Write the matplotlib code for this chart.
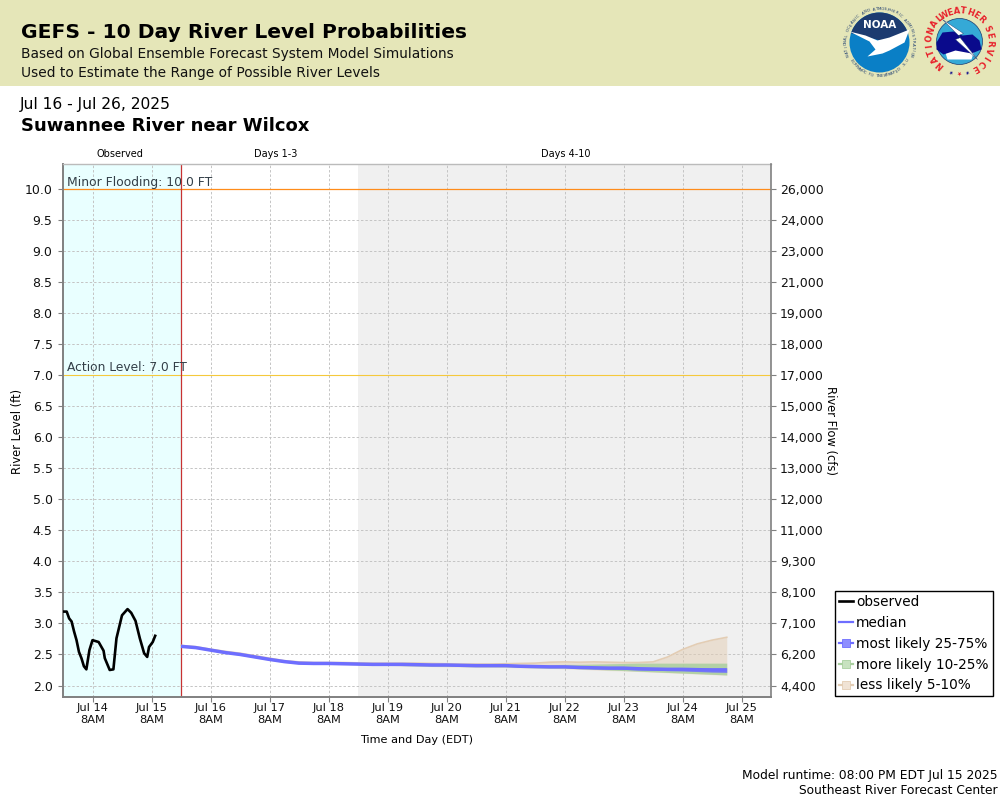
import numpy as np
import pandas as pd
import matplotlib
matplotlib.use('Agg')
import matplotlib.pyplot as plt
import matplotlib.dates as mdates
from matplotlib.lines import Line2D
from matplotlib.patches import Circle, Polygon, Rectangle

# observed stage (ft)
obs_times = ['07-13 20:30', '07-13 21:30', '07-13 22:30', '07-13 23:30', '07-14 00:30', '07-14 01:30',
             '07-14 02:30', '07-14 03:30', '07-14 04:30', '07-14 05:30', '07-14 06:45', '07-14 08:00',
             '07-14 10:30', '07-14 12:30', '07-14 13:00', '07-14 15:00', '07-14 16:30', '07-14 17:45',
             '07-14 20:00', '07-14 22:15', '07-14 23:45', '07-15 01:30', '07-15 03:15', '07-15 05:00',
             '07-15 06:15', '07-15 07:00', '07-15 08:30', '07-15 09:30']
obs_level = [3.19, 3.19, 3.08, 3.03, 2.87, 2.73, 2.54, 2.44, 2.31, 2.26, 2.57, 2.73,
             2.70, 2.56, 2.44, 2.25, 2.26, 2.76, 3.13, 3.23, 3.17, 3.04, 2.76, 2.52,
             2.46, 2.62, 2.70, 2.80]

# forecast percentiles, every 6 hours
median = [2.63, 2.61, 2.57, 2.53, 2.50, 2.46, 2.42, 2.385, 2.36, 2.355, 2.355, 2.35, 2.345,
          2.34, 2.34, 2.34, 2.335, 2.33, 2.33, 2.325, 2.32, 2.32, 2.32, 2.31, 2.305,
          2.30, 2.30, 2.29, 2.285, 2.28, 2.28, 2.27, 2.265, 2.26, 2.26, 2.255, 2.25, 2.25]
q75 = [2.635, 2.615, 2.575, 2.535, 2.505, 2.465, 2.425, 2.39, 2.365, 2.36, 2.36, 2.355, 2.35,
       2.345, 2.345, 2.345, 2.34, 2.335, 2.335, 2.33, 2.325, 2.325, 2.325, 2.32, 2.315,
       2.31, 2.31, 2.30, 2.30, 2.295, 2.295, 2.29, 2.29, 2.29, 2.29, 2.285, 2.285, 2.285]
q25 = [2.625, 2.605, 2.565, 2.525, 2.495, 2.455, 2.415, 2.38, 2.355, 2.35, 2.35, 2.345, 2.34,
       2.335, 2.335, 2.33, 2.325, 2.32, 2.32, 2.315, 2.31, 2.31, 2.31, 2.30, 2.295,
       2.29, 2.29, 2.28, 2.27, 2.265, 2.26, 2.25, 2.245, 2.24, 2.235, 2.225, 2.215, 2.21]
q90 = [2.64, 2.62, 2.58, 2.54, 2.51, 2.47, 2.43, 2.395, 2.37, 2.365, 2.365, 2.36, 2.36,
       2.355, 2.355, 2.355, 2.35, 2.345, 2.345, 2.34, 2.335, 2.335, 2.335, 2.335, 2.33,
       2.335, 2.34, 2.34, 2.345, 2.35, 2.355, 2.36, 2.36, 2.36, 2.36, 2.36, 2.36, 2.36]
q10 = [2.62, 2.60, 2.56, 2.52, 2.49, 2.45, 2.41, 2.375, 2.35, 2.345, 2.345, 2.34, 2.335,
       2.33, 2.33, 2.32, 2.315, 2.31, 2.31, 2.305, 2.30, 2.30, 2.30, 2.29, 2.285,
       2.28, 2.28, 2.27, 2.26, 2.25, 2.24, 2.23, 2.22, 2.21, 2.20, 2.19, 2.18, 2.17]
q95 = [2.645, 2.625, 2.585, 2.55, 2.52, 2.48, 2.44, 2.40, 2.38, 2.37, 2.37, 2.37, 2.365,
       2.36, 2.36, 2.36, 2.36, 2.355, 2.35, 2.345, 2.345, 2.345, 2.35, 2.355, 2.36,
       2.375, 2.38, 2.375, 2.38, 2.375, 2.37, 2.37, 2.38, 2.46, 2.58, 2.67, 2.73, 2.776]
q05 = [2.615, 2.595, 2.555, 2.515, 2.485, 2.445, 2.405, 2.37, 2.345, 2.34, 2.34, 2.335, 2.33,
       2.325, 2.325, 2.315, 2.31, 2.305, 2.30, 2.30, 2.295, 2.295, 2.29, 2.285, 2.28,
       2.275, 2.27, 2.26, 2.25, 2.24, 2.235, 2.225, 2.215, 2.205, 2.195, 2.185, 2.175, 2.165]

# right axis labels, one per half foot from 2.0 to 10.0
level_ticks = [2.0, 2.5, 3.0, 3.5, 4.0, 4.5, 5.0, 5.5, 6.0, 6.5, 7.0, 7.5, 8.0, 8.5, 9.0, 9.5, 10.0]
flow_labels = ['4,400', '6,200', '7,100', '8,100', '9,300', '11,000', '12,000', '13,000', '14,000',
               '15,000', '17,000', '18,000', '19,000', '21,000', '23,000', '24,000', '26,000']

minor_flood = 10.0
action_level = 7.0

obs_x = pd.to_datetime(['2025-' + t for t in obs_times])
fc_x = pd.date_range('2025-07-15 20:00', periods=len(median), freq='6h')
start = pd.Timestamp('2025-07-13 20:00')
runtime = pd.Timestamp('2025-07-15 20:00')
day4 = pd.Timestamp('2025-07-18 20:00')
end = pd.Timestamp('2025-07-25 20:00')

TAN = '#e3cdb4'
GREEN = '#a9cf9f'
BLUE = '#6e6eff'
GRAY = '#808080'
NAVY = '#1c3b70'
RED = '#e8202a'

plt.rcParams['font.family'] = 'DejaVu Sans'
fig = plt.figure(figsize=(10, 8), dpi=100)

# header band, logos and free text sit on a pixel-coordinate overlay
bg = fig.add_axes([0, 0, 1, 1], zorder=0)
bg.set_xlim(0, 1000)
bg.set_ylim(800, 0)
bg.axis('off')
bg.add_patch(Rectangle((0, 0), 1000, 85.5, color='#e5e6b8', lw=0))

bg.text(21, 33, 'GEFS - 10 Day River Level Probabilities', fontsize=14.6, fontweight='bold', va='center')
bg.text(21, 54, 'Based on Global Ensemble Forecast System Model Simulations', fontsize=9.95, va='center', color='#111111')
bg.text(21, 73, 'Used to Estimate the Range of Possible River Levels', fontsize=9.95, va='center', color='#111111')
bg.text(20, 105, 'Jul 16 - Jul 26, 2025', fontsize=11.2, va='center')
bg.text(21, 126, 'Suwannee River near Wilcox', fontsize=13, fontweight='bold', va='center')
bg.text(120, 154, 'Observed', fontsize=7, ha='center', va='center')
bg.text(276, 154, 'Days 1-3', fontsize=7, ha='center', va='center')
bg.text(566, 154, 'Days 4-10', fontsize=7, ha='center', va='center')
bg.text(417, 740, 'Time and Day (EDT)', fontsize=8.1, ha='center', va='center')
bg.text(18, 431, 'River Level (ft)', fontsize=8.3, rotation=90, ha='center', va='center')
bg.text(831, 431, 'River Flow (cfs)', fontsize=8.3, rotation=-90, ha='center', va='center')
bg.text(998, 775, 'Model runtime: 08:00 PM EDT Jul 15 2025', fontsize=8.8, ha='right', va='center')
bg.text(998, 791, 'Southeast River Forecast Center', fontsize=8.8, ha='right', va='center')


def ring_text(cx, cy, r, text, a0, a1, color, size, weight='normal', bottom=False):
    # letters spread along an arc, angles in degrees clockwise from north
    for ch, a in zip(text, np.linspace(a0, a1, len(text))):
        rad = np.radians(a)
        rot = -a if not bottom else 180 - a
        bg.text(cx + r * np.sin(rad), cy - r * np.cos(rad), ch, fontsize=size, color=color,
                fontweight=weight, rotation=rot, ha='center', va='center')


# NOAA logo
cx, cy = 879.5, 42.5
bg.add_patch(Circle((cx, cy), 30, fc='#0a7fc6', ec='none'))
top = np.radians(np.linspace(-72, 72, 30))
bg.add_patch(Polygon(np.r_[np.c_[cx + 30 * np.sin(top), cy - 30 * np.cos(top)],
                           [[cx + 1, cy - 2]]], fc=NAVY, ec='none'))
bg.add_patch(Polygon([[cx - 30, cy - 11], [cx - 14, cy - 7], [cx - 2, cy - 2], [cx + 10, cy - 5], [cx + 30, cy - 13],
                      [cx + 25, cy], [cx + 10, cy + 8], [cx + 3, cy + 11], [cx - 12, cy + 14], [cx - 4, cy + 7],
                      [cx - 10, cy - 1]], fc='white', ec='none'))
bg.text(cx, cy - 17, 'NOAA', color='white', fontsize=7.5, fontweight='bold', ha='center', va='center')
ring_text(cx, cy, 33.5, 'NATIONAL OCEANIC AND ATMOSPHERIC ADMINISTRATION', -112, 112, NAVY, 2.8)
ring_text(cx, cy, 33.5, 'U.S. DEPARTMENT OF COMMERCE', 122, 238, NAVY, 2.8, bottom=True)

# NWS logo
cx, cy = 959.5, 41.5
bg.add_patch(Circle((cx, cy), 23, fc='#35a9d6', ec=NAVY, lw=0.5))
bg.add_patch(Polygon([[cx - 15, cy + 8], [cx + 15, cy + 8], [cx + 12, cy + 18], [cx - 12, cy + 18]], fc='white', ec='none'))
bg.add_patch(Polygon([[cx - 23, cy + 1], [cx - 17, cy - 9], [cx - 6, cy - 10], [cx + 3, cy - 6], [cx + 13, cy - 7],
                      [cx + 20, cy - 1], [cx + 22, cy + 8], [cx + 12, cy + 12], [cx - 4, cy + 9], [cx - 16, cy + 13],
                      [cx - 23, cy + 8]], fc='#0a0a8c', ec='none'))
bg.add_patch(Polygon([[cx - 17, cy - 22], [cx + 4, cy - 8], [cx - 1, cy - 6], [cx + 18, cy + 18], [cx - 4, cy - 2],
                      [cx + 1, cy - 4]], fc='white', ec=NAVY, lw=0.3))
ring_text(cx, cy, 30.5, 'NATIONAL', -139, -42, RED, 6, 'bold')
ring_text(cx, cy, 30.5, 'WEATHER', -30, 45, RED, 6, 'bold')
ring_text(cx, cy, 30.5, 'SERVICE', 65, 150, RED, 6, 'bold')
ring_text(cx, cy, 30.5, '★', 180, 180, RED, 4, 'bold')
ring_text(cx, cy, 30.5, '★★', 165, 195, '#0a0a8c', 3.5, 'bold')

# main plot
ax = fig.add_axes([63 / 1000, 1 - 697 / 800, 708 / 1000, 533 / 800], zorder=2)
ax.set_xlim(start, end)
ax.set_ylim(1.815, 10.395)
ax.axvspan(start, runtime, color='#e9ffff', lw=0, zorder=0)
ax.axvspan(day4, end, color='#f0f0f0', lw=0, zorder=0)
ax.grid(True, color='#c4c4c4', ls=(0, (2.5, 2)), lw=0.7, zorder=1)
ax.set_axisbelow(True)
ax.axhline(minor_flood, color='#ff8c1a', lw=0.9, zorder=2)
ax.axhline(action_level, color='#f5c93c', lw=0.8, zorder=2)
ax.axvline(runtime, color='#c83232', lw=0.9, zorder=2)
ax.text(0.006, 10.1, 'Minor Flooding: 10.0 FT', transform=ax.get_yaxis_transform(),
        fontsize=8.9, color='#333f48', va='center')
ax.text(0.006, 7.12, 'Action Level: 7.0 FT', transform=ax.get_yaxis_transform(),
        fontsize=8.85, color='#333f48', va='center')

ax.fill_between(fc_x, q05, q95, color=TAN, alpha=0.5, lw=0, zorder=3)
ax.plot(fc_x, q95, color=TAN, lw=1.2, zorder=3)
ax.fill_between(fc_x, q10, q90, color=GREEN, alpha=0.85, lw=0, zorder=4)
ax.fill_between(fc_x, q25, q75, color=BLUE, alpha=0.8, lw=0, zorder=5)
ax.plot(fc_x, median, color=BLUE, lw=2.5, solid_capstyle='butt', zorder=6)
ax.plot(obs_x, obs_level, color='black', lw=1.9, zorder=7)

ax.set_yticks(level_ticks)
ax.set_yticklabels([f'{v:.1f}' for v in level_ticks])
ax.xaxis.set_major_locator(mdates.HourLocator(byhour=[8]))
ax.xaxis.set_major_formatter(mdates.DateFormatter('%b %-d\n%-I%p'))
ax.tick_params(axis='both', color=GRAY, length=3.5, width=0.8, labelcolor='#111111')
ax.tick_params(axis='y', labelsize=9, pad=4)
ax.tick_params(axis='x', labelsize=8.2, pad=1)

right = ax.twinx()
right.set_ylim(ax.get_ylim())
right.set_yticks(level_ticks)
right.set_yticklabels(flow_labels)
right.tick_params(axis='y', labelsize=9, color=GRAY, length=3.5, width=0.8, pad=3, labelcolor='#111111')

for side in ('left', 'top', 'bottom'):
    right.spines[side].set_visible(False)
ax.spines['right'].set_visible(False)
ax.spines['left'].set_color(GRAY)
ax.spines['left'].set_linewidth(1.4)
ax.spines['bottom'].set_color(GRAY)
ax.spines['bottom'].set_linewidth(1.4)
ax.spines['top'].set_color('#bbbbbb')
ax.spines['top'].set_linewidth(1.0)
right.spines['right'].set_color(GRAY)
right.spines['right'].set_linewidth(1.2)

handles = [
    Line2D([], [], color='black', lw=1.9),
    Line2D([], [], color=BLUE, lw=1.6),
    Line2D([], [], color=BLUE, lw=1.6, marker='s', ms=5.5, mfc='#8f8fff', mec=BLUE, mew=0.6),
    Line2D([], [], color=GREEN, lw=1.6, marker='s', ms=5.5, mfc='#c8e2c0', mec=GREEN, mew=0.6),
    Line2D([], [], color=TAN, lw=1.6, marker='s', ms=5.5, mfc='#f0e3d5', mec=TAN, mew=0.6),
]
labels = ['observed', 'median', 'most likely 25-75%', 'more likely 10-25%', 'less likely 5-10%']
leg = fig.legend(handles, labels, loc='upper left', bbox_to_anchor=(835 / 1000, 1 - 591 / 800),
                 fontsize=9.8, frameon=True, fancybox=False, edgecolor='black', facecolor='white',
                 framealpha=1, borderpad=0.3, labelspacing=0.5, handlelength=1.05, handletextpad=0.2,
                 borderaxespad=0)
leg.get_frame().set_linewidth(1.0)
leg.set_zorder(5)

fig.savefig('out.png', dpi=100)
